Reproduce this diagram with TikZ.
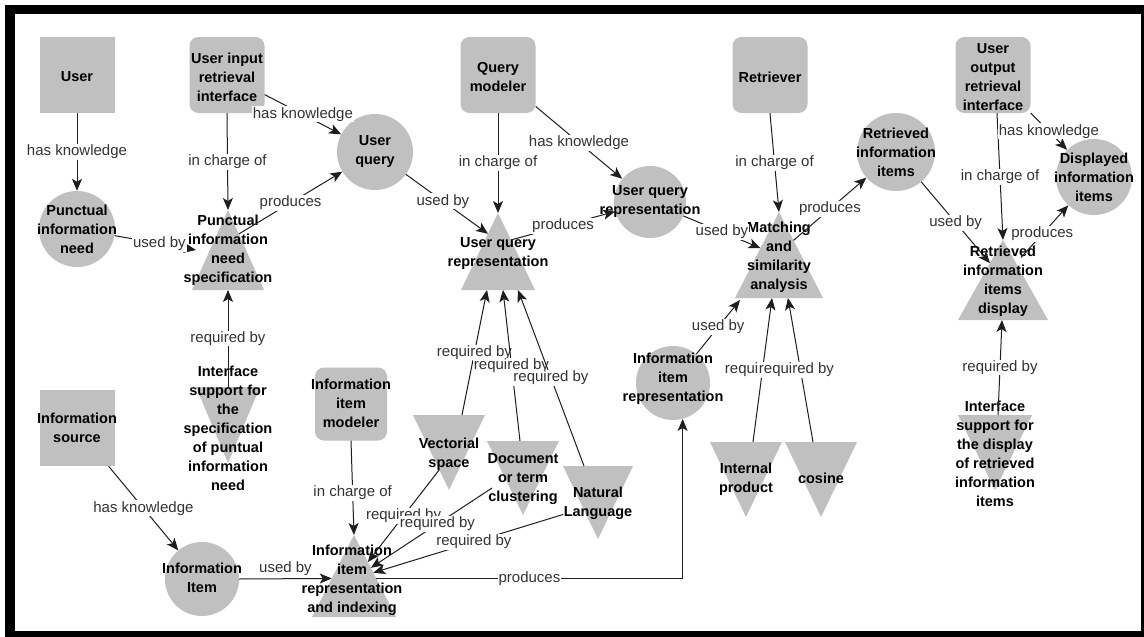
\documentclass[tikz,border=0pt]{standalone}
\usepackage{fontspec}
\setmainfont{Liberation Sans}
\usetikzlibrary{arrows.meta,calc}

\definecolor{shapegray}{RGB}{192,192,192}
\definecolor{linecol}{RGB}{30,30,30}
\newcommand{\NdFont}{\bfseries\fontsize{14.5pt}{19pt}\selectfont}
\newcommand{\LbFont}{\fontsize{15pt}{17pt}\selectfont}

\tikzset{
  sq/.style={fill=shapegray, minimum width=75pt, minimum height=76pt, inner sep=0pt},
  rbox/.style={sq, rounded corners=9pt},
  circ/.style={circle, fill=shapegray, inner sep=0pt},
  tribox/.style={inner sep=0pt, outer sep=0pt},
  txt/.style={align=center, font=\NdFont, inner sep=0pt, text=black},
  conn/.style={draw=linecol, line width=1pt, -{Stealth[length=12pt,width=10pt,inset=3pt]}},
  lab/.style={font=\LbFont, fill=white, inner sep=1pt, text=black!80},
}

% name, centre x, apex y, base y, half width
\newcommand{\UpTri}[5]{%
  \node[tribox, minimum width={2*#5}, minimum height={#4-#3}] (#1) at (#2,{(#3+#4)/2}) {};
  \fill[shapegray] (#1.north) -- (#1.south east) -- (#1.south west) -- cycle;}
% name, centre x, top y, apex y, half width
\newcommand{\DnTri}[5]{%
  \node[tribox, minimum width={2*#5}, minimum height={#4-#3}] (#1) at (#2,{(#3+#4)/2}) {};
  \fill[shapegray] (#1.north west) -- (#1.north east) -- (#1.south) -- cycle;}

\begin{document}
\begin{tikzpicture}[x=1pt, y=-1pt]
\useasboundingbox (0,0) rectangle (1144,637);
% frame
\fill[black] (5,5) rectangle (1144,637);
\fill[white] (15,14) rectangle (1141,631);

% ---- shapes ----
\node[sq] (user) at (77,75) {};
\node[sq] (src) at (77,428) {};
\node[rbox] (uiri) at (227,75) {};
\node[rbox] (qm) at (498,75) {};
\node[rbox] (ret) at (770,75) {};
\node[rbox] (uori) at (993,75) {};
\node[rbox, minimum height=73pt, minimum width=72pt] (iim) at (351,404) {};

\node[circ, minimum size=76pt] (pin) at (77,229) {};
\node[circ, minimum size=76pt] (uq) at (375,152) {};
\node[circ, minimum size=72pt] (uqrc) at (650,202) {};
\node[circ, minimum size=78pt] (rii) at (896,152) {};
\node[circ, minimum size=76pt] (dii) at (1094,177) {};
\node[circ, minimum size=74pt] (ii) at (202,579) {};
\node[circ, minimum size=74pt] (iir) at (673,383) {};

\UpTri{pins}{228}{210}{290}{36}
\UpTri{uqrt}{498}{213}{290}{37}
\UpTri{mat}{779}{212}{298}{44}
\UpTri{riid}{1003}{240}{320}{45}
\UpTri{iiri}{354}{535}{617}{42}

\DnTri{isp}{228}{387}{463}{32}
\DnTri{vs}{449}{415}{490}{36}
\DnTri{dtc}{523}{441}{515}{36}
\DnTri{nl}{598}{466}{539}{35}
\DnTri{ip}{746}{442}{517}{36}
\DnTri{cos}{821}{442}{517}{36}
\DnTri{isd}{995}{415}{490}{37}

% ---- texts ----
\node[txt] (user-t) at (77,77) {User};
\node[txt] (src-t) at (77,428) {Information\\source};
\node[txt] (uiri-t) at (227,77) {User input\\retrieval\\interface};
\node[txt] (qm-t) at (498,77) {Query\\modeler};
\node[txt] (ret-t) at (770,77) {Retriever};
\node[txt] (uori-t) at (993,77) {User\\output\\retrieval\\interface};
\node[txt] (iim-t) at (351,403) {Information\\item\\modeler};

\node[txt] (pin-t) at (77,229) {Punctual\\information\\need};
\node[txt] (uq-t) at (375,152) {User\\query};
\node[txt] (uqrc-t) at (650,202) {User query\\representation};
\node[txt] (rii-t) at (896,152) {Retrieved\\information\\items};
\node[txt] (dii-t) at (1094,177) {Displayed\\information\\items};
\node[txt] (ii-t) at (202,578) {Information\\Item};
\node[txt] (iir-t) at (673,379) {Information\\item\\representation};

\node[txt] (pins-t) at (228,250) {Punctual\\information\\need\\specification};
\node[txt] (uqrt-t) at (498,254) {User query\\representation};
\node[txt] (mat-t) at (779,257) {Matching\\and\\similarity\\analysis};
\node[txt] (riid-t) at (1003,281) {Retrieved\\information\\items\\display};
\node[txt] (iiri-t) at (352,580) {Information\\item\\representation\\and indexing};

\node[txt] (isp-t) at (228,428) {Interface\\support for\\the\\specification\\of puntual\\information\\need};
\node[txt] (vs-t) at (449,454) {Vectorial\\space};
\node[txt] (dtc-t) at (523,479) {Document\\or term\\clustering};
\node[txt] (nl-t) at (598,503) {Natural\\Language};
\node[txt] (ip-t) at (746,479) {Internal\\product};
\node[txt] (cos-t) at (821,478) {cosine};
\node[txt] (isd-t) at (995,454) {Interface\\support for\\the display\\of retrieved\\information\\items};

% ---- connectors ----
\draw[conn] (user) -- node[lab]{has knowledge} (pin);
\draw[conn] (uiri.south) -- node[lab]{in charge of} (pins.north);
\draw[conn] (uiri) -- node[lab]{has knowledge} (uq);
\draw[conn] (pin) -- node[lab,pos=0.55]{used by} ([xshift=4pt]pins.west);
\draw[conn] ($(pins.north)!0.3!(pins.south east)$) -- node[lab]{produces} (uq);
\draw[conn] (isp.north) -- node[lab]{required by} (pins.south);

\draw[conn] (uq) -- node[lab,pos=0.45]{used by} ($(uqrt.north)!0.27!(uqrt.south west)$);
\draw[conn] (qm.south) -- node[lab]{in charge of} (uqrt.north);
\draw[conn] (qm) -- node[lab]{has knowledge} (uqrc);
\draw[conn] ($(uqrt.north)!0.35!(uqrt.south east)$) -- node[lab]{produces} (uqrc);
\draw[conn] ([xshift=13pt]vs.north) -- node[lab]{required by} ([xshift=-11pt]uqrt.south);
\draw[conn] ([xshift=-3pt]dtc.north) -- node[lab]{required by} ([xshift=5pt]uqrt.south);
\draw[conn] ([xshift=-14pt]nl.north) -- node[lab]{required by} ([xshift=20pt]uqrt.south);

\draw[conn] (iim.south) -- node[lab,pos=0.55]{in charge of} (iiri.north);
\draw[conn] ($(vs.north west)!0.73!(vs.south)$) -- node[lab]{required by} ($(iiri.north)!0.33!(iiri.south east)$);
\draw[conn] ($(dtc.west)+(5,10)$) -- node[lab,pos=0.45]{required by} ($(iiri.north)!0.4!(iiri.south east)$);
\draw[conn] ($(nl.west)+(0,12)$) -- node[lab,pos=0.47]{required by} ($(iiri.north)!0.46!(iiri.south east)$);
\draw[conn] (ii.east) -- node[lab,above=2pt]{used by} ($(iiri.north)!0.53!(iiri.south west)$);
\draw[conn] (src) -- node[lab]{has knowledge} (ii);
\draw[conn] ($(iiri.north)!0.53!(iiri.south east)$) -| node[lab,pos=0.25]{produces} (iir.-75);

\draw[conn] (iir) -- node[lab]{used by} ([xshift=5pt,yshift=-2pt]mat.south west);
\draw[conn] (uqrc) -- node[lab]{used by} ($(mat.north)!0.42!(mat.south west)$);
\draw[conn] (ret.south) -- node[lab]{in charge of} (mat.north);
\draw[conn] ($(mat.north)!0.33!(mat.south east)$) -- node[lab]{produces} (rii);
\draw[conn] ([xshift=7pt]ip.north) -- node[lab]{required by} ([xshift=-7pt]mat.south);
\draw[conn] ([xshift=-8pt]cos.north) -- node[lab,xshift=-4pt]{required by} ([xshift=9pt]mat.south);

\draw[conn] (rii) -- node[lab]{used by} ($(riid.north)!0.29!(riid.south west)$);
\draw[conn] ([xshift=4pt]uori.south) -- node[lab]{in charge of} (riid.north);
\draw[conn] (uori) -- node[lab]{has knowledge} (dii);
\draw[conn] ($(riid.north)!0.22!(riid.south east)+(8,0)$) -- node[lab,pos=0.45]{produces} (dii);
\draw[conn] ([xshift=3pt]isd.north) -- node[lab]{required by} ([xshift=-1pt]riid.south);
\end{tikzpicture}
\end{document}
